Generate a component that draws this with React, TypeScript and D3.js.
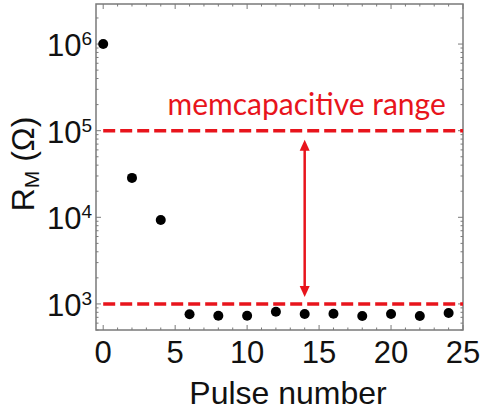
import React, { useEffect, useRef } from 'react';
import * as d3 from 'd3';

// pulse number vs memristance R_M (ohm)
const pulses = [0, 2, 4, 6, 8, 10, 12, 14, 16, 18, 20, 22, 24];
const resistance = [1e6, 2.85e4, 9.3e3, 759, 731, 731, 813, 766, 771, 726, 766, 726, 785];

const xTicks = [0, 5, 10, 15, 20, 25];
const yExponents = [3, 4, 5, 6];
const rangeBounds = [1e5, 1e3];
const rangeLabel = 'memcapacitive range';
const arrowAt = 14;

const RED = '#e8141c';
const FRAME = '#7a7a7a';
const SANS = '"Liberation Sans", Arial, sans-serif';

const App = () => {
  const ref = useRef<SVGSVGElement | null>(null);

  useEffect(() => {
    document.body.style.margin = '0';
    const svg = d3.select(ref.current);
    svg.selectAll('*').remove();

    const left = 96, right = 463, top = 4, bottom = 330;

    const x = d3.scaleLinear().domain([-0.5, 25]).range([left, right]);
    const y = d3.scaleLog().domain([500, 2.9e6]).range([bottom, top]);

    // frame
    svg.append('rect')
      .attr('x', left).attr('y', top)
      .attr('width', right - left).attr('height', bottom - top)
      .attr('fill', 'none')
      .attr('stroke', FRAME)
      .attr('stroke-width', 1.5);

    // inward ticks, bottom and top
    const xMinor = d3.range(0, 26, 1);
    const tickG = svg.append('g').attr('stroke', FRAME).attr('stroke-width', 1);
    xMinor.forEach((v) => {
      const len = v % 5 === 0 ? 5 : 2.5;
      tickG.append('line').attr('x1', x(v)).attr('x2', x(v)).attr('y1', bottom).attr('y2', bottom - len);
      tickG.append('line').attr('x1', x(v)).attr('x2', x(v)).attr('y1', top).attr('y2', top + len);
    });

    // inward log ticks, left and right
    const yMinor: number[] = [];
    [2, 3, 4, 5, 6].forEach((e) => {
      for (let m = 1; m < 10; m++) {
        const v = m * Math.pow(10, e);
        if (v >= 500 && v <= 2.9e6) yMinor.push(v);
      }
    });
    yMinor.forEach((v) => {
      const major = Math.abs(Math.log10(v) - Math.round(Math.log10(v))) < 1e-9;
      const len = major ? 5 : 2.5;
      tickG.append('line').attr('x1', left).attr('x2', left + len).attr('y1', y(v)).attr('y2', y(v));
      tickG.append('line').attr('x1', right).attr('x2', right - len).attr('y1', y(v)).attr('y2', y(v));
    });

    // x tick labels
    svg.append('g')
      .selectAll('text')
      .data(xTicks)
      .enter()
      .append('text')
      .attr('x', (d) => x(d))
      .attr('y', 363)
      .attr('text-anchor', 'middle')
      .style('font-family', SANS)
      .style('font-size', '31px')
      .attr('fill', '#111')
      .text((d) => d);

    // y tick labels 10^n
    const yl = svg.append('g')
      .selectAll('text')
      .data(yExponents)
      .enter()
      .append('text')
      .attr('x', 92)
      .attr('y', (d) => y(Math.pow(10, d)) + 12)
      .attr('text-anchor', 'end')
      .style('font-family', SANS)
      .style('font-size', '31px')
      .attr('fill', '#111');
    yl.append('tspan').text('10');
    yl.append('tspan').attr('dy', -11).style('font-size', '19px').text((d) => d);

    // axis titles
    svg.append('text')
      .attr('x', 288)
      .attr('y', 404)
      .attr('text-anchor', 'middle')
      .style('font-family', SANS)
      .style('font-size', '32px')
      .attr('fill', '#111')
      .text('Pulse number');

    const yt = svg.append('text')
      .attr('transform', 'translate(34,164) rotate(-90)')
      .attr('text-anchor', 'middle')
      .style('font-family', SANS)
      .style('font-size', '32px')
      .attr('fill', '#111');
    yt.append('tspan').text('R');
    yt.append('tspan').attr('dy', 5).style('font-size', '21px').text('M');
    yt.append('tspan').attr('dy', -5).text(' (Ω)');

    // range bounds
    svg.append('g')
      .selectAll('line')
      .data(rangeBounds)
      .enter()
      .append('line')
      .attr('x1', x(0))
      .attr('x2', right)
      .attr('y1', (d) => y(d))
      .attr('y2', (d) => y(d))
      .attr('stroke', RED)
      .attr('stroke-width', 3.5)
      .attr('stroke-dasharray', '12,5');

    // double arrow
    const ax = x(arrowAt);
    const yTop = y(rangeBounds[0]) + 9;
    const yBot = y(rangeBounds[1]) - 7;
    svg.append('line')
      .attr('x1', ax).attr('x2', ax)
      .attr('y1', yTop + 8).attr('y2', yBot - 8)
      .attr('stroke', RED)
      .attr('stroke-width', 2.5);
    svg.append('path')
      .attr('d', `M${ax},${yTop} L${ax - 5},${yTop + 11} L${ax + 5},${yTop + 11} Z`)
      .attr('fill', RED);
    svg.append('path')
      .attr('d', `M${ax},${yBot} L${ax - 5},${yBot - 11} L${ax + 5},${yBot - 11} Z`)
      .attr('fill', RED);

    svg.append('text')
      .attr('x', ax + 2)
      .attr('y', 115)
      .attr('text-anchor', 'middle')
      .style('font-family', 'Lato, "Open Sans", sans-serif')
      .style('font-size', '30px')
      .attr('fill', RED)
      .text(rangeLabel);

    // points
    svg.append('g')
      .selectAll('circle')
      .data(pulses)
      .enter()
      .append('circle')
      .attr('cx', (d) => x(d))
      .attr('cy', (d, i) => y(resistance[i]))
      .attr('r', 5)
      .attr('fill', '#000');
  }, []);

  return <svg ref={ref} width={481} height={412} style={{ display: 'block', background: '#fff' }} />;
};

export default App;
